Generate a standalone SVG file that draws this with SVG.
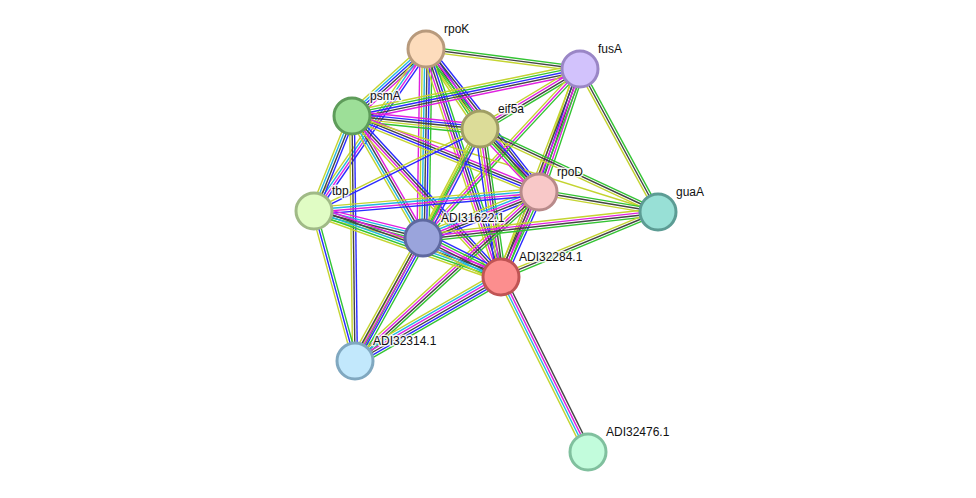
<svg xmlns="http://www.w3.org/2000/svg" width="976" height="498" viewBox="0 0 976 498">
<style>
line{stroke-width:1.4;fill:none}
.G{stroke:#33c433}.B{stroke:#2a2aff}.K{stroke:#444}.M{stroke:#e020e0}.C{stroke:#22b6e0}.Y{stroke:#c4d430}
.node circle{stroke-width:3}
.node text{font-family:"Liberation Sans",Arial,sans-serif;font-size:12px;fill:#111;stroke:#fff;stroke-width:3;stroke-opacity:0.85;paint-order:stroke;stroke-linejoin:round}
</style>
<rect width="976" height="498" fill="#fff"/>
<g id="edges">
<g transform="translate(426 49) rotate(7.40)"><line class="G" x2="155.3" y1="-2.4" y2="-2.4"/><line class="K" x2="155.3" y1="0" y2="0"/><line class="Y" x2="155.3" y1="2.4" y2="2.4"/></g>
<g transform="translate(426 49) rotate(137.84)"><line class="M" x2="99.8" y1="-4.8" y2="-4.8"/><line class="K" x2="99.8" y1="-2.4" y2="-2.4"/><line class="B" x2="99.8" y1="0" y2="0"/><line class="C" x2="99.8" y1="2.4" y2="2.4"/><line class="Y" x2="99.8" y1="4.8" y2="4.8"/></g>
<g transform="translate(426 49) rotate(55.98)"><line class="B" x2="96.5" y1="-3.6" y2="-3.6"/><line class="K" x2="96.5" y1="-1.2" y2="-1.2"/><line class="G" x2="96.5" y1="1.2" y2="1.2"/><line class="Y" x2="96.5" y1="3.6" y2="3.6"/></g>
<g transform="translate(426 49) rotate(51.69)"><line class="B" x2="182.3" y1="-4.8" y2="-4.8"/><line class="K" x2="182.3" y1="-2.4" y2="-2.4"/><line class="M" x2="182.3" y1="0" y2="0"/><line class="G" x2="182.3" y1="2.4" y2="2.4"/><line class="Y" x2="182.3" y1="4.8" y2="4.8"/></g>
<g transform="translate(426 49) rotate(90.91)"><line class="G" x2="189" y1="-6" y2="-6"/><line class="B" x2="189" y1="-3.6" y2="-3.6"/><line class="K" x2="189" y1="-1.2" y2="-1.2"/><line class="C" x2="189" y1="1.2" y2="1.2"/><line class="Y" x2="189" y1="3.6" y2="3.6"/><line class="M" x2="189" y1="6" y2="6"/></g>
<g transform="translate(426 49) rotate(71.79)"><line class="G" x2="240" y1="-4.8" y2="-4.8"/><line class="B" x2="240" y1="-2.4" y2="-2.4"/><line class="K" x2="240" y1="0" y2="0"/><line class="M" x2="240" y1="2.4" y2="2.4"/><line class="Y" x2="240" y1="4.8" y2="4.8"/></g>
<g transform="translate(426 49) rotate(124.66)"><line class="B" x2="196.9" y1="-3.6" y2="-3.6"/><line class="M" x2="196.9" y1="-1.2" y2="-1.2"/><line class="C" x2="196.9" y1="1.2" y2="1.2"/><line class="Y" x2="196.9" y1="3.6" y2="3.6"/></g>
<g transform="translate(580 69) rotate(168.35)"><line class="M" x2="232.8" y1="-4.8" y2="-4.8"/><line class="K" x2="232.8" y1="-2.4" y2="-2.4"/><line class="B" x2="232.8" y1="0" y2="0"/><line class="G" x2="232.8" y1="2.4" y2="2.4"/><line class="Y" x2="232.8" y1="4.8" y2="4.8"/></g>
<g transform="translate(580 69) rotate(149.04)"><line class="G" x2="116.6" y1="-3.6" y2="-3.6"/><line class="K" x2="116.6" y1="-1.2" y2="-1.2"/><line class="M" x2="116.6" y1="1.2" y2="1.2"/><line class="Y" x2="116.6" y1="3.6" y2="3.6"/></g>
<g transform="translate(580 69) rotate(108.43)"><line class="G" x2="129.7" y1="-4.8" y2="-4.8"/><line class="M" x2="129.7" y1="-2.4" y2="-2.4"/><line class="K" x2="129.7" y1="0" y2="0"/><line class="B" x2="129.7" y1="2.4" y2="2.4"/><line class="Y" x2="129.7" y1="4.8" y2="4.8"/></g>
<g transform="translate(580 69) rotate(61.39)"><line class="G" x2="162.9" y1="-2.4" y2="-2.4"/><line class="K" x2="162.9" y1="0" y2="0"/><line class="Y" x2="162.9" y1="2.4" y2="2.4"/></g>
<g transform="translate(580 69) rotate(110.79)"><line class="G" x2="222.5" y1="-3.6" y2="-3.6"/><line class="M" x2="222.5" y1="-1.2" y2="-1.2"/><line class="K" x2="222.5" y1="1.2" y2="1.2"/><line class="Y" x2="222.5" y1="3.6" y2="3.6"/></g>
<g transform="translate(580 69) rotate(132.89)"><line class="G" x2="230.7" y1="-2.4" y2="-2.4"/><line class="M" x2="230.7" y1="0" y2="0"/><line class="Y" x2="230.7" y1="2.4" y2="2.4"/></g>
<g transform="translate(352 116) rotate(5.80)"><line class="M" x2="128.7" y1="-4.8" y2="-4.8"/><line class="B" x2="128.7" y1="-2.4" y2="-2.4"/><line class="K" x2="128.7" y1="0" y2="0"/><line class="Y" x2="128.7" y1="2.4" y2="2.4"/><line class="G" x2="128.7" y1="4.8" y2="4.8"/></g>
<g transform="translate(352 116) rotate(22.12)"><line class="M" x2="201.9" y1="-3.6" y2="-3.6"/><line class="K" x2="201.9" y1="-1.2" y2="-1.2"/><line class="B" x2="201.9" y1="1.2" y2="1.2"/><line class="Y" x2="201.9" y1="3.6" y2="3.6"/></g>
<g transform="translate(352 116) rotate(111.80)"><line class="B" x2="102.3" y1="-3.6" y2="-3.6"/><line class="K" x2="102.3" y1="-1.2" y2="-1.2"/><line class="C" x2="102.3" y1="1.2" y2="1.2"/><line class="Y" x2="102.3" y1="3.6" y2="3.6"/></g>
<g transform="translate(352 116) rotate(59.80)"><line class="M" x2="141.2" y1="-3.6" y2="-3.6"/><line class="K" x2="141.2" y1="-1.2" y2="-1.2"/><line class="C" x2="141.2" y1="1.2" y2="1.2"/><line class="Y" x2="141.2" y1="3.6" y2="3.6"/></g>
<g transform="translate(352 116) rotate(47.22)"><line class="B" x2="219.4" y1="-3.6" y2="-3.6"/><line class="K" x2="219.4" y1="-1.2" y2="-1.2"/><line class="M" x2="219.4" y1="1.2" y2="1.2"/><line class="Y" x2="219.4" y1="3.6" y2="3.6"/></g>
<g transform="translate(352 116) rotate(89.30)"><line class="B" x2="245" y1="-2.4" y2="-2.4"/><line class="K" x2="245" y1="0" y2="0"/><line class="Y" x2="245" y1="2.4" y2="2.4"/></g>
<g transform="translate(352 116) rotate(17.42)"><line class="Y" x2="320.7" y1="0" y2="0"/></g>
<g transform="translate(480 129) rotate(46.88)"><line class="B" x2="86.3" y1="-3.6" y2="-3.6"/><line class="K" x2="86.3" y1="-1.2" y2="-1.2"/><line class="G" x2="86.3" y1="1.2" y2="1.2"/><line class="M" x2="86.3" y1="3.6" y2="3.6"/></g>
<g transform="translate(480 129) rotate(117.61)"><line class="B" x2="123" y1="-3.6" y2="-3.6"/><line class="M" x2="123" y1="-1.2" y2="-1.2"/><line class="G" x2="123" y1="1.2" y2="1.2"/><line class="Y" x2="123" y1="3.6" y2="3.6"/></g>
<g transform="translate(480 129) rotate(81.92)"><line class="G" x2="149.5" y1="-4.8" y2="-4.8"/><line class="K" x2="149.5" y1="-2.4" y2="-2.4"/><line class="M" x2="149.5" y1="0" y2="0"/><line class="Y" x2="149.5" y1="2.4" y2="2.4"/><line class="B" x2="149.5" y1="4.8" y2="4.8"/></g>
<g transform="translate(480 129) rotate(153.71)"><line class="B" x2="185.1" y1="-1.2" y2="-1.2"/><line class="Y" x2="185.1" y1="1.2" y2="1.2"/></g>
<g transform="translate(480 129) rotate(118.31)"><line class="G" x2="263.5" y1="-1.2" y2="-1.2"/><line class="Y" x2="263.5" y1="1.2" y2="1.2"/></g>
<g transform="translate(480 129) rotate(25.00)"><line class="G" x2="196.4" y1="-2.4" y2="-2.4"/><line class="K" x2="196.4" y1="0" y2="0"/><line class="Y" x2="196.4" y1="2.4" y2="2.4"/></g>
<g transform="translate(539 192) rotate(9.54)"><line class="G" x2="120.7" y1="-2.4" y2="-2.4"/><line class="K" x2="120.7" y1="0" y2="0"/><line class="Y" x2="120.7" y1="2.4" y2="2.4"/></g>
<g transform="translate(539 192) rotate(158.37)"><line class="B" x2="124.8" y1="-4.8" y2="-4.8"/><line class="K" x2="124.8" y1="-2.4" y2="-2.4"/><line class="M" x2="124.8" y1="0" y2="0"/><line class="C" x2="124.8" y1="2.4" y2="2.4"/><line class="Y" x2="124.8" y1="4.8" y2="4.8"/></g>
<g transform="translate(539 192) rotate(114.09)"><line class="B" x2="93.1" y1="-4.8" y2="-4.8"/><line class="G" x2="93.1" y1="-2.4" y2="-2.4"/><line class="M" x2="93.1" y1="0" y2="0"/><line class="K" x2="93.1" y1="2.4" y2="2.4"/><line class="Y" x2="93.1" y1="4.8" y2="4.8"/></g>
<g transform="translate(539 192) rotate(175.17)"><line class="B" x2="225.8" y1="-3.6" y2="-3.6"/><line class="M" x2="225.8" y1="-1.2" y2="-1.2"/><line class="C" x2="225.8" y1="1.2" y2="1.2"/><line class="Y" x2="225.8" y1="3.6" y2="3.6"/></g>
<g transform="translate(539 192) rotate(137.43)"><line class="G" x2="249.8" y1="-3.6" y2="-3.6"/><line class="K" x2="249.8" y1="-1.2" y2="-1.2"/><line class="M" x2="249.8" y1="1.2" y2="1.2"/><line class="Y" x2="249.8" y1="3.6" y2="3.6"/></g>
<g transform="translate(423 238) rotate(-6.31)"><line class="Y" x2="236.4" y1="-3.6" y2="-3.6"/><line class="M" x2="236.4" y1="-1.2" y2="-1.2"/><line class="K" x2="236.4" y1="1.2" y2="1.2"/><line class="G" x2="236.4" y1="3.6" y2="3.6"/></g>
<g transform="translate(501 277) rotate(-22.49)"><line class="Y" x2="169.9" y1="-2.4" y2="-2.4"/><line class="K" x2="169.9" y1="0" y2="0"/><line class="G" x2="169.9" y1="2.4" y2="2.4"/></g>
<g transform="translate(314 211) rotate(13.91)"><line class="M" x2="112.3" y1="-4.8" y2="-4.8"/><line class="C" x2="112.3" y1="-2.4" y2="-2.4"/><line class="K" x2="112.3" y1="0" y2="0"/><line class="G" x2="112.3" y1="2.4" y2="2.4"/><line class="Y" x2="112.3" y1="4.8" y2="4.8"/></g>
<g transform="translate(314 211) rotate(19.44)"><line class="M" x2="198.3" y1="-4.8" y2="-4.8"/><line class="K" x2="198.3" y1="-2.4" y2="-2.4"/><line class="C" x2="198.3" y1="0" y2="0"/><line class="G" x2="198.3" y1="2.4" y2="2.4"/><line class="Y" x2="198.3" y1="4.8" y2="4.8"/></g>
<g transform="translate(314 211) rotate(74.71)"><line class="G" x2="155.5" y1="-2.4" y2="-2.4"/><line class="B" x2="155.5" y1="0" y2="0"/><line class="Y" x2="155.5" y1="2.4" y2="2.4"/></g>
<g transform="translate(423 238) rotate(26.57)"><line class="B" x2="87.2" y1="-6" y2="-6"/><line class="G" x2="87.2" y1="-3.6" y2="-3.6"/><line class="M" x2="87.2" y1="-1.2" y2="-1.2"/><line class="K" x2="87.2" y1="1.2" y2="1.2"/><line class="C" x2="87.2" y1="3.6" y2="3.6"/><line class="Y" x2="87.2" y1="6" y2="6"/></g>
<g transform="translate(423 238) rotate(118.94)"><line class="G" x2="140.5" y1="-4.8" y2="-4.8"/><line class="B" x2="140.5" y1="-2.4" y2="-2.4"/><line class="M" x2="140.5" y1="0" y2="0"/><line class="K" x2="140.5" y1="2.4" y2="2.4"/><line class="Y" x2="140.5" y1="4.8" y2="4.8"/></g>
<g transform="translate(501 277) rotate(150.09)"><line class="G" x2="168.4" y1="-6" y2="-6"/><line class="B" x2="168.4" y1="-3.6" y2="-3.6"/><line class="K" x2="168.4" y1="-1.2" y2="-1.2"/><line class="M" x2="168.4" y1="1.2" y2="1.2"/><line class="C" x2="168.4" y1="3.6" y2="3.6"/><line class="Y" x2="168.4" y1="6" y2="6"/></g>
<g transform="translate(501 277) rotate(63.56)"><line class="K" x2="195.4" y1="-3.6" y2="-3.6"/><line class="M" x2="195.4" y1="-1.2" y2="-1.2"/><line class="C" x2="195.4" y1="1.2" y2="1.2"/><line class="Y" x2="195.4" y1="3.6" y2="3.6"/></g>
</g>
<g id="node-rpoK" class="node"><circle cx="426" cy="49" r="18" fill="#fddcbc" stroke="#b89a7c"/><text x="444" y="33">rpoK</text></g>
<g id="node-fusA" class="node"><circle cx="580" cy="69" r="18" fill="#d2c2fc" stroke="#9a86c6"/><text x="598" y="53">fusA</text></g>
<g id="node-psmA" class="node"><circle cx="352" cy="116" r="18" fill="#9ddf98" stroke="#5e9c5a"/><text x="370" y="100">psmA</text></g>
<g id="node-eif5a" class="node"><circle cx="480" cy="129" r="18" fill="#dcdc98" stroke="#a09e64"/><text x="498" y="113">eif5a</text></g>
<g id="node-rpoD" class="node"><circle cx="539" cy="192" r="18" fill="#f8c8c8" stroke="#b88a8a"/><text x="557" y="176">rpoD</text></g>
<g id="node-guaA" class="node"><circle cx="658" cy="212" r="18" fill="#98e0d6" stroke="#5c9c94"/><text x="676" y="196">guaA</text></g>
<g id="node-tbp" class="node"><circle cx="314" cy="211" r="18" fill="#e0fcc4" stroke="#a0ba86"/><text x="332" y="195">tbp</text></g>
<g id="node-ADI31622.1" class="node"><circle cx="423" cy="238" r="18" fill="#9aa4dc" stroke="#5e68a0"/><text x="441" y="222">ADI31622.1</text></g>
<g id="node-ADI32284.1" class="node"><circle cx="501" cy="277" r="18" fill="#fc8e8e" stroke="#c05454"/><text x="519" y="261">ADI32284.1</text></g>
<g id="node-ADI32314.1" class="node"><circle cx="355" cy="361" r="18" fill="#c2e8fc" stroke="#80a8c0"/><text x="373" y="345">ADI32314.1</text></g>
<g id="node-ADI32476.1" class="node"><circle cx="588" cy="452" r="18" fill="#c2fcdc" stroke="#80c09e"/><text x="606" y="436">ADI32476.1</text></g>
</svg>
